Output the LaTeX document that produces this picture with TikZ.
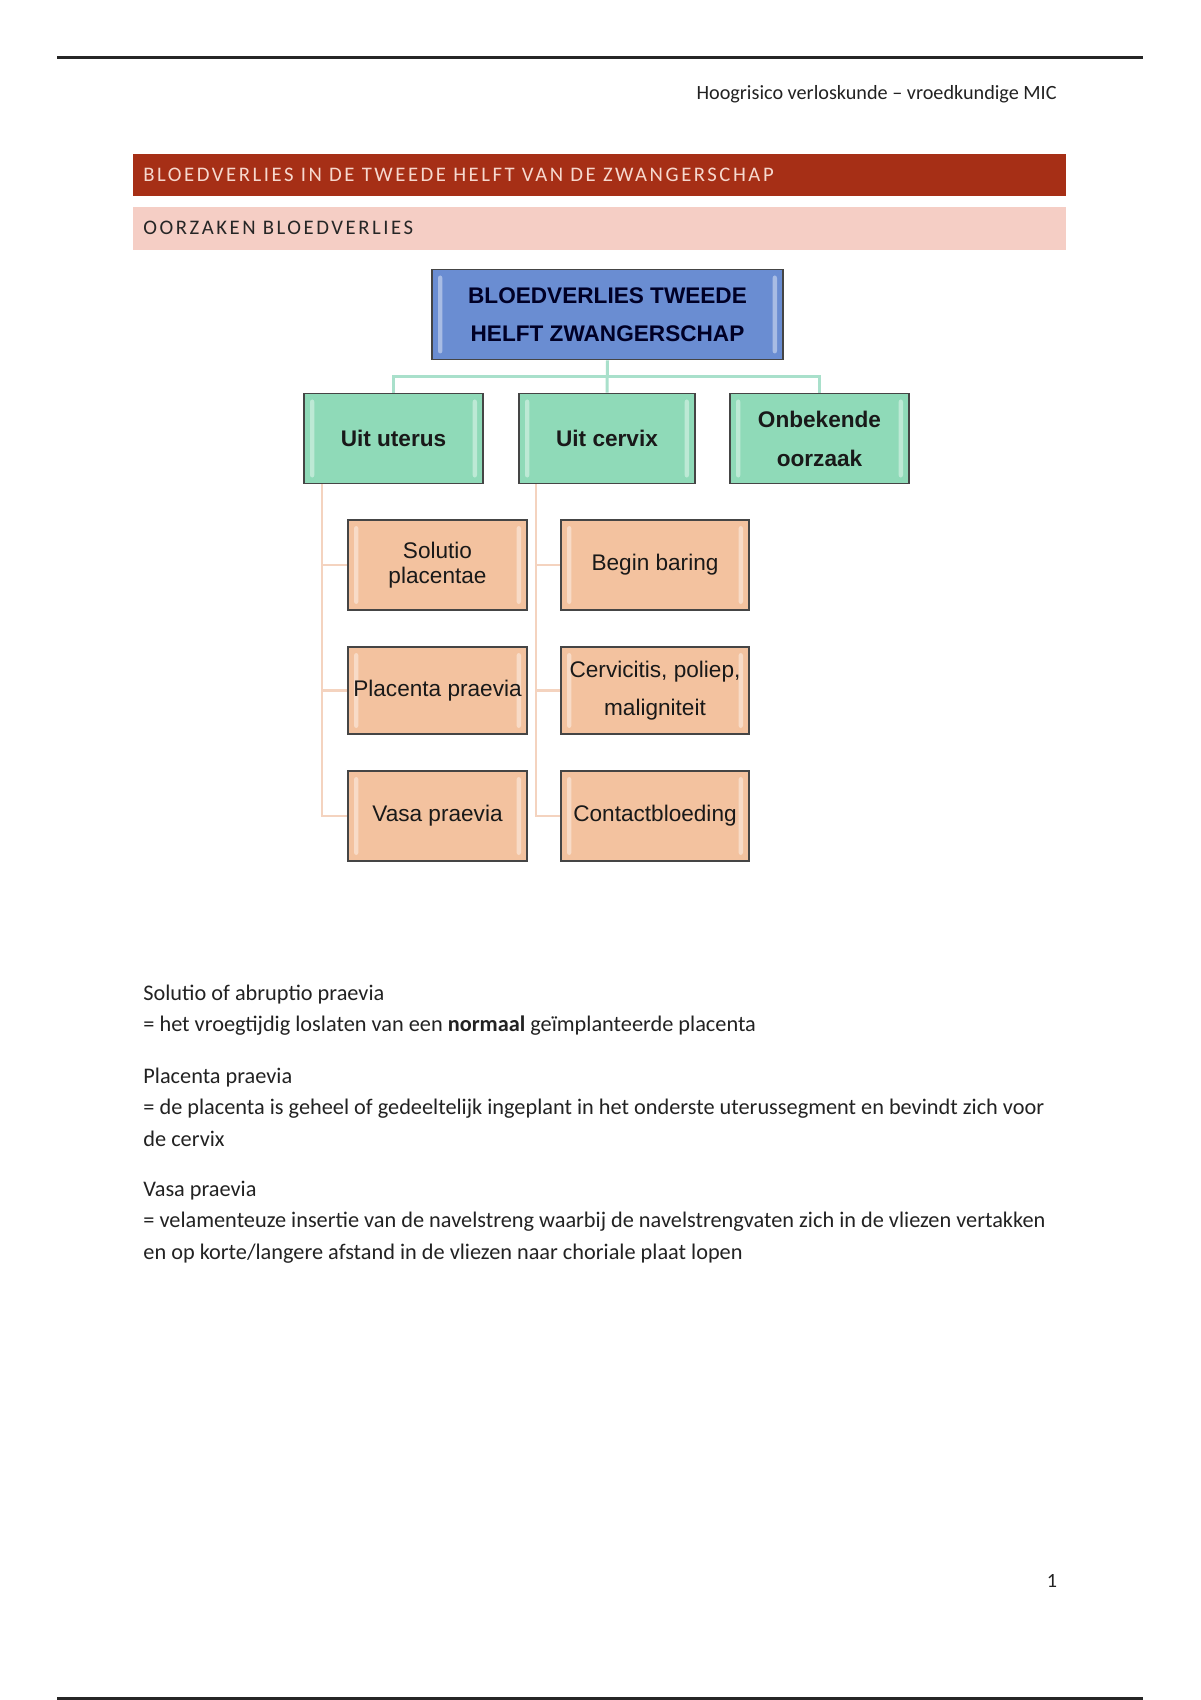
\documentclass[tikz,border=0pt]{standalone}
\usepackage{fontspec}
\setmainfont{Carlito}
\newfontfamily\arialf{Liberation Sans}
\definecolor{bandred}{HTML}{A62F16}
\definecolor{bandredtext}{HTML}{F6D8CE}
\definecolor{bandpink}{HTML}{F5CEC5}
\definecolor{rootblue}{HTML}{6A8DD2}
\definecolor{mint}{HTML}{8FDAB8}
\definecolor{peach}{HTML}{F3C29F}
\definecolor{mintline}{HTML}{A9E0CB}
\definecolor{peachline}{HTML}{F4D3BF}
\definecolor{boxborder}{HTML}{454545}
\definecolor{bodytext}{HTML}{222222}
\begin{document}
\begin{tikzpicture}[x=0.5pt,y=-0.5pt,
  bevel/.style={path picture={
    \fill[white,opacity=.42,rounded corners=1.2pt]
      ([xshift=3pt,yshift=-3pt]path picture bounding box.north west) rectangle
      ([xshift=5.2pt,yshift=3pt]path picture bounding box.south west);
    \fill[white,opacity=.42,rounded corners=1.2pt]
      ([xshift=-3pt,yshift=-3pt]path picture bounding box.north east) rectangle
      ([xshift=-5.2pt,yshift=3pt]path picture bounding box.south east);
  }},
  dbox/.style={draw=boxborder,line width=0.8pt,bevel,inner sep=1pt,align=center,
    text=black!90,font=\arialf\fontsize{11.3}{19}\selectfont},
  rootbox/.style={dbox,fill=rootblue,minimum width=175.5pt,minimum height=45pt,
    font=\arialf\bfseries\fontsize{11.3}{19}\selectfont,text=black!85!blue},
  catbox/.style={dbox,fill=mint,minimum height=45pt,
    font=\arialf\bfseries\fontsize{11.3}{19.5}\selectfont},
  leafL/.style={dbox,fill=peach,minimum width=89.5pt},
  leafR/.style={dbox,fill=peach,minimum width=94pt},
  tconn/.style={draw=mintline,line width=1.5pt},
  sconn/.style={draw=peachline,line width=1.2pt},
  body/.style={anchor=base west,inner sep=0pt,text=bodytext,font=\fontsize{11.15}{13}\selectfont},
  bandtxt/.style={anchor=base west,inner sep=0pt,font=\fontsize{10.35}{12}\selectfont\addfontfeature{LetterSpace=12.3}}
]
\useasboundingbox (0,0) rectangle (1200,1700);
\fill[white] (0,0) rectangle (1200,1700);

% page rules
\draw[line width=1.5pt,black!85] (57,58) -- (1143,58);
\draw[line width=1.5pt,black!85] (57,1698) -- (1143,1698);

% running header
\node[anchor=base east,inner sep=0pt,text=bodytext,font=\fontsize{10.1}{12}\selectfont] (hdr) at (1057,100)
  {Hoogrisico verloskunde – vroedkundige MIC};

% section bands
\fill[bandred] (133,154) rectangle (1066,196);
\node[bandtxt,text=bandredtext] (h1) at (143,181.5) {BLOEDVERLIES IN DE TWEEDE HELFT VAN DE ZWANGERSCHAP};
\fill[bandpink] (133,207) rectangle (1066,250);
\node[bandtxt,text=black!85] (h2) at (143,235) {OORZAKEN BLOEDVERLIES};

% diagram
\node[rootbox] (root) at (607.5,314.5) {BLOEDVERLIES TWEEDE\\HELFT ZWANGERSCHAP};
\node[catbox,minimum width=89.5pt] (uterus) at (393.5,438.5) {Uit uterus};
\node[catbox,minimum width=88pt] (cervix) at (607,438.5) {Uit cervix};
\node[catbox,minimum width=89.5pt] (onbek) at (819.5,438.5) {Onbekende\\oorzaak};

\node[leafL,minimum height=45pt,font=\arialf\fontsize{11.3}{12.5}\selectfont] (sol) at (437.5,565) {Solutio\\placentae};
\node[leafL,minimum height=43.5pt] (pp) at (437.5,690.5) {Placenta praevia};
\node[leafL,minimum height=45pt] (vp) at (437.5,816) {Vasa praevia};
\node[leafR,minimum height=45pt] (bb) at (655,565) {Begin baring};
\node[leafR,minimum height=43.5pt] (cpm) at (655,690.5) {Cervicitis, poliep,\\maligniteit};
\node[leafR,minimum height=45pt] (cb) at (655,816) {Contactbloeding};

% connectors: root to categories
\coordinate (bus) at (607,377);
\draw[tconn] (uterus.north) -- (uterus.north |- bus) -- (onbek.north |- bus) -- (onbek.north);
\draw[tconn] (root.south) -- (cervix.north);

% connectors: categories to causes
\coordinate (lt) at ([xshift=9.5pt]uterus.south west);
\coordinate (rt) at ([xshift=9pt]cervix.south west);
\draw[sconn] (lt) |- (sol.west);
\draw[sconn] (lt) |- (pp.west);
\draw[sconn] (lt) |- (vp.west);
\draw[sconn] (rt) |- (bb.west);
\draw[sconn] (rt) |- (cpm.west);
\draw[sconn] (rt) |- (cb.west);

% body text
\node[body] (t1) at (143,1000) {Solutio of abruptio praevia};
\node[body] (t2) at (143,1031) {= het vroegtijdig loslaten van een \textbf{normaal} geïmplanteerde placenta};
\node[body] (t3) at (143,1083) {Placenta praevia};
\node[body] (t4) at (143,1114) {= de placenta is geheel of gedeeltelijk ingeplant in het onderste uterussegment en bevindt zich voor};
\node[body] (t5) at (143,1146) {de cervix};
\node[body] (t6) at (143,1196) {Vasa praevia};
\node[body] (t7) at (143,1227) {= velamenteuze insertie van de navelstreng waarbij de navelstrengvaten zich in de vliezen vertakken};
\node[body] (t8) at (143,1259) {en op korte/langere afstand in de vliezen naar choriale plaat lopen};

% page number
\node[anchor=base,inner sep=0pt,text=bodytext,font=\fontsize{10.1}{12}\selectfont] (pnum) at (1052,1587) {1};
\end{tikzpicture}
\end{document}
